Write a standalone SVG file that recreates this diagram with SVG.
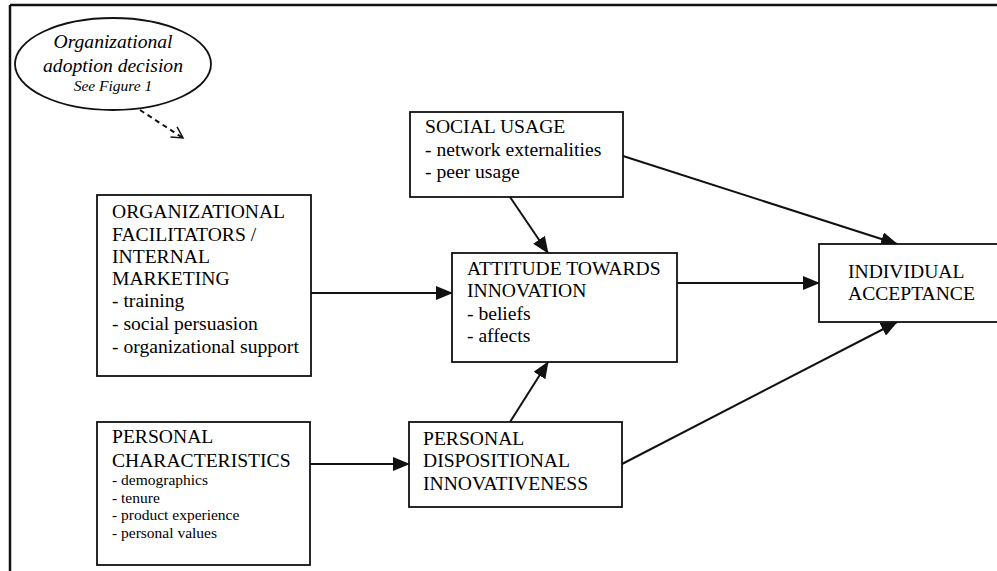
<svg xmlns="http://www.w3.org/2000/svg" width="997" height="571" viewBox="0 0 997 571">
<style>
.box{fill:#fff;stroke:#111;stroke-width:1.8}
.t{font-family:"Liberation Serif","Times New Roman",serif;font-size:19.6px;fill:#000}
.s{font-size:15.5px}
.f{font-size:15.5px}
.i{font-style:italic}
.c{fill:none;stroke:#111;stroke-width:2}
</style>
<defs>
<marker id="ah" markerUnits="userSpaceOnUse" markerWidth="18" markerHeight="14" refX="16" refY="7" orient="auto">
<path d="M0,0 L17,7 L0,14 Z" fill="#111"/>
</marker>
<marker id="oh" markerUnits="userSpaceOnUse" markerWidth="14" markerHeight="14" refX="12" refY="7" orient="auto">
<path d="M1,1 L12,7 L1,13" fill="none" stroke="#111" stroke-width="1.5"/>
</marker>
</defs>
<rect width="997" height="571" fill="#fff"/>
<g id="frame">
<line x1="10" y1="5" x2="997" y2="5" stroke="#111" stroke-width="2.5"/>
<line x1="10" y1="5" x2="10" y2="571" stroke="#111" stroke-width="2.5"/>
</g>
<g id="adoption">
<ellipse cx="113" cy="64" rx="98" ry="46" class="box"/>
<text class="t i" x="113" y="48" text-anchor="middle">Organizational</text>
<text class="t i" x="113" y="72" text-anchor="middle">adoption decision</text>
<text class="t i f" x="113" y="91" text-anchor="middle">See Figure 1</text>
</g>
<g id="connectors">
<line x1="140" y1="110" x2="183" y2="138" class="c" stroke-width="1.5" stroke-dasharray="5,4" marker-end="url(#oh)"/>
<line x1="510" y1="197" x2="548" y2="253" class="c" marker-end="url(#ah)"/>
<line x1="623" y1="156" x2="897" y2="244" class="c" marker-end="url(#ah)"/>
<line x1="311" y1="293" x2="452" y2="293" class="c" marker-end="url(#ah)"/>
<line x1="677" y1="283" x2="819" y2="283" class="c" marker-end="url(#ah)"/>
<line x1="510" y1="422" x2="548" y2="362" class="c" marker-end="url(#ah)"/>
<line x1="622" y1="464" x2="897" y2="322" class="c" marker-end="url(#ah)"/>
<line x1="310" y1="464" x2="409" y2="464" class="c" marker-end="url(#ah)"/>
</g>
<g id="social">
<rect x="410" y="112" width="213" height="85" class="box"/>
<text class="t" x="425" y="133">SOCIAL USAGE</text>
<text class="t" x="425" y="156">- network externalities</text>
<text class="t" x="425" y="178">- peer usage</text>
</g>
<g id="facilitators">
<rect x="97" y="195" width="214" height="181" class="box"/>
<text class="t" x="112" y="218">ORGANIZATIONAL</text>
<text class="t" x="112" y="241">FACILITATORS /</text>
<text class="t" x="112" y="263">INTERNAL</text>
<text class="t" x="112" y="285">MARKETING</text>
<text class="t" x="112" y="307">- training</text>
<text class="t" x="112" y="330">- social persuasion</text>
<text class="t" x="112" y="353">- organizational support</text>
</g>
<g id="attitude">
<rect x="452" y="253" width="225" height="109" class="box"/>
<text class="t" x="467" y="275">ATTITUDE TOWARDS</text>
<text class="t" x="467" y="297">INNOVATION</text>
<text class="t" x="467" y="320">- beliefs</text>
<text class="t" x="467" y="342">- affects</text>
</g>
<g id="acceptance">
<rect x="819" y="244" width="190" height="78" class="box"/>
<text class="t" x="848" y="278">INDIVIDUAL</text>
<text class="t" x="848" y="300">ACCEPTANCE</text>
</g>
<g id="characteristics">
<rect x="97" y="422" width="213" height="143" class="box"/>
<text class="t" x="112" y="443">PERSONAL</text>
<text class="t" x="112" y="467">CHARACTERISTICS</text>
<text class="t s" x="112" y="485">- demographics</text>
<text class="t s" x="112" y="503">- tenure</text>
<text class="t s" x="112" y="520">- product experience</text>
<text class="t s" x="112" y="538">- personal values</text>
</g>
<g id="dispositional">
<rect x="409" y="422" width="213" height="85" class="box"/>
<text class="t" x="423" y="445">PERSONAL</text>
<text class="t" x="423" y="467">DISPOSITIONAL</text>
<text class="t" x="423" y="490">INNOVATIVENESS</text>
</g>
</svg>
